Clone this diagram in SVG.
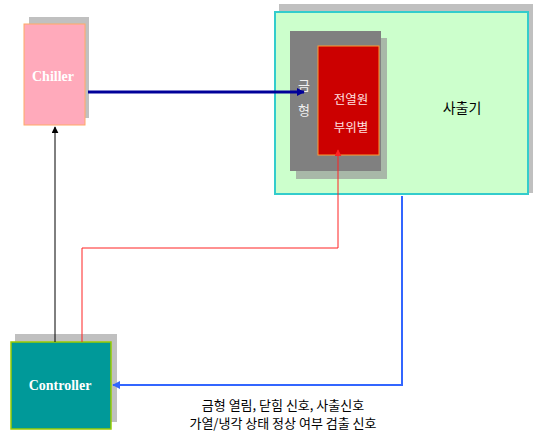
<svg xmlns="http://www.w3.org/2000/svg" width="533" height="432" viewBox="0 0 533 432">
<defs>
<style>
.shadow{fill:#c0c0c0}
.lbl{font-family:"Liberation Serif",serif;font-weight:bold;font-size:14px;fill:#fff;text-anchor:middle}
.ko{font-family:"Noto Sans CJK KR","Noto Sans",sans-serif;text-anchor:middle}
</style>
<marker id="ahBlack" viewBox="0 0 10 10" refX="9" refY="5" markerWidth="7" markerHeight="7" markerUnits="userSpaceOnUse" orient="auto"><path d="M0,0L10,5L0,10z" fill="#000"/></marker>
<marker id="ahNavy" viewBox="0 0 10 10" refX="9" refY="5" markerWidth="8" markerHeight="8" markerUnits="userSpaceOnUse" orient="auto"><path d="M0,0L10,5L0,10z" fill="#000099"/></marker>
<marker id="ahRed" viewBox="0 0 10 10" refX="9" refY="5" markerWidth="7" markerHeight="7" markerUnits="userSpaceOnUse" orient="auto"><path d="M0,0L10,5L0,10z" fill="#ff2222"/></marker>
<marker id="ahBlue" viewBox="0 0 10 10" refX="9" refY="5" markerWidth="8" markerHeight="8" markerUnits="userSpaceOnUse" orient="auto"><path d="M0,0L10,5L0,10z" fill="#3366ff"/></marker>
</defs>
<rect width="533" height="432" fill="#fff"/>
<g id="injection-machine">
<rect class="shadow" x="279" y="4" width="254" height="189"/>
<rect x="275" y="12" width="253" height="182" fill="#ccffcc" stroke="#33cccc" stroke-width="2"/>
<text class="ko" x="462" y="113" font-size="14" fill="#000">사출기</text>
</g>
<g id="mold">
<rect x="296" y="38" width="91" height="141" fill="#a8b8a8"/>
<rect x="290" y="31" width="91" height="140" fill="#808080"/>
<text class="ko" x="304" y="90" font-size="13" fill="#f0f0f0">금</text>
<text class="ko" x="304" y="115" font-size="13" fill="#f0f0f0">형</text>
</g>
<g id="heater">
<rect x="318" y="46" width="61" height="109" fill="#cc0000" stroke="#ff9933" stroke-width="1"/>
<text class="ko" x="351" y="104" font-size="12.5" fill="#ffe0e0">전열원</text>
<text class="ko" x="351" y="132" font-size="12.5" fill="#ffe0e0">부위별</text>
</g>
<g id="chiller">
<rect class="shadow" x="29" y="17" width="60" height="101"/>
<rect x="24" y="24" width="61" height="101" fill="#ffaabb" stroke="#ffaa66" stroke-width="1"/>
<text class="lbl" x="53" y="81">Chiller</text>
</g>
<g id="controller">
<rect class="shadow" x="15" y="334" width="102" height="88"/>
<rect x="11" y="342" width="100" height="87" fill="#009999" stroke="#99cc00" stroke-width="1.5"/>
<text class="lbl" x="60" y="390">Controller</text>
</g>
<g id="connectors" fill="none">
<line x1="88" y1="92" x2="304" y2="92" stroke="#000099" stroke-width="3" marker-end="url(#ahNavy)"/>
<line x1="55" y1="342" x2="55" y2="127" stroke="#000" stroke-width="1" marker-end="url(#ahBlack)"/>
<polyline points="82,342 82,248 338,248 338,150" stroke="#ff2222" stroke-width="1" marker-end="url(#ahRed)"/>
<polyline points="402,196 402,385 113,385" stroke="#3366ff" stroke-width="2" marker-end="url(#ahBlue)"/>
</g>
<g id="signal-label">
<text class="ko" x="283" y="410" font-size="13" fill="#000">금형 열림, 닫힘 신호, 사출신호</text>
<text class="ko" x="283" y="428" font-size="13" fill="#000">가열/냉각 상태 정상 여부 검출 신호</text>
</g>
</svg>
